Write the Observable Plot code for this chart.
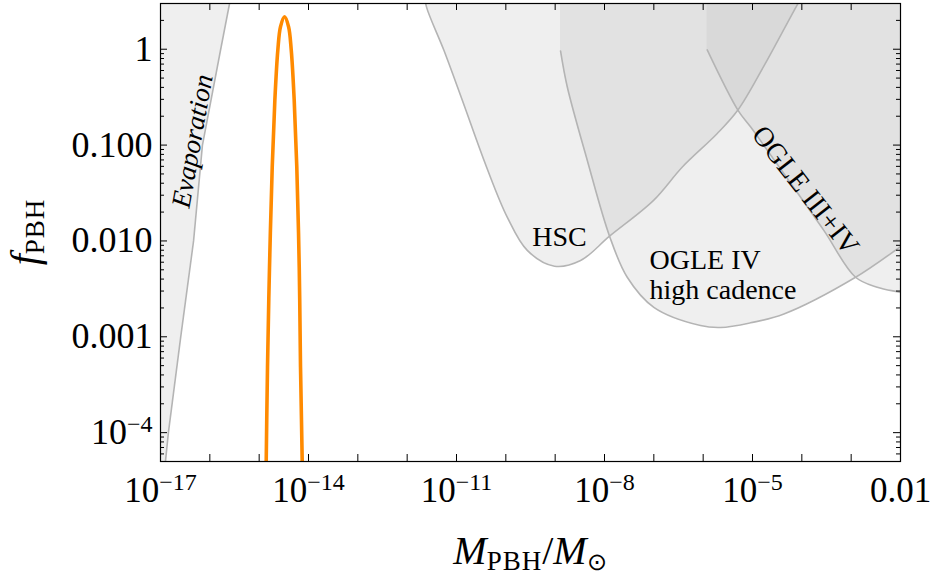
<!DOCTYPE html>
<html>
<head>
<meta charset="utf-8">
<script src="https://cdn.jsdelivr.net/npm/d3@7"></script>
<script src="https://cdn.jsdelivr.net/npm/@observablehq/plot@0.6"></script>
<style>
html,body{margin:0;padding:0;background:#fff;}
#chart svg{display:block;}
</style>
</head>
<body>
<div id="chart"></div>
<script>
// ---------------- data ----------------
// Evaporation bound (region to the left is excluded)
const evapMass = [1.05e-17, 1.26e-17, 1.445e-17, 2.57e-17, 4.68e-17, 7.08e-17, 1.66e-16, 2.51e-16, 3.0e-16];
const evapF    = [2e-5, 5e-5, 1e-4, 1e-3, 1e-2, 0.1, 1, 3, 5];

// HSC microlensing bound
const hscMass = [2.25e-12, 2.47e-12, 5.53e-12, 1.306e-11, 4.06e-11, 1.067e-10, 2.72e-10, 9.70e-10, 3.27e-9, 1.265e-8, 9.86e-8, 3.78e-7, 1.93e-6, 5.05e-6, 1.675e-5, 8.45e-5, 1.07e-4];
const hscF    = [3.7, 2.75, 0.98, 0.295, 0.0591, 0.01774, 0.00796, 0.00545, 0.00625, 0.01122, 0.0265, 0.0591, 0.132, 0.232, 0.658, 3.03, 3.7];

// OGLE IV high cadence bound
const ogle4Mass = [1.285e-9, 1.758e-9, 4.47e-9, 1.265e-8, 2.89e-8, 1.0e-7, 8.83e-7, 2.25e-6, 9.12e-6, 4.32e-5, 1.227e-3, 9.70e-3, 1.26e-2];
const ogle4F    = [0.96, 0.406, 0.0695, 0.01122, 0.00418, 0.00203, 0.00131, 0.00125, 0.0014, 0.00173, 0.00418, 0.00861, 0.0094];

// OGLE III+IV bound
const ogle34Mass = [1.208e-6, 5.05e-6, 9.12e-6, 4.32e-5, 2.79e-4, 1.227e-3, 3.38e-3, 9.70e-3, 1.26e-2];
const ogle34F    = [0.984, 0.232, 0.155, 0.0505, 0.0129, 0.00418, 0.00329, 0.00291, 0.0028];

// PBH mass function (orange)
const pbhMass = [1.318e-15, 1.39e-15, 1.476e-15, 1.62e-15, 1.84e-15, 2.08e-15, 2.39e-15, 2.71e-15, 3.27e-15, 3.94e-15, 4.47e-15, 5.13e-15, 5.79e-15, 6.49e-15, 6.89e-15, 7.45e-15, 7.85e-15];
const pbhF    = [5e-6, 5.1e-5, 4.8e-4, 5.3e-3, 0.059, 0.295, 0.98, 1.72, 2.18, 1.72, 0.98, 0.295, 0.059, 5.3e-3, 4.8e-4, 5.1e-5, 5e-6];

// region labels
const labelText = ["HSC", "OGLE IV", "high cadence"];
const labelMass = [1.225e-9, 8.18e-8, 8.18e-8];
const labelF    = [0.01104, 0.00634, 0.00306];
const labelAnchor = ["middle", "start", "start"];

// tick labels
const xLabelTicks = [1e-17, 1e-14, 1e-11, 1e-8, 1e-5, 1e-2];
const xTickLabels = ["10^−17", "10^−14", "10^−11", "10^−8", "10^−5", "0.01"];
const yLabelTicks = [1e-4, 1e-3, 1e-2, 1e-1, 1];
const yTickLabels = ["10^−4", "0.001", "0.010", "0.100", "1"];

// ---------------- layout ----------------
const W = 935, H = 579;
const mL = 160, mR = 35, mT = 3, mB = 118;
const fw = W - mL - mR, fh = H - mT - mB;
const FONT = "'Liberation Serif', 'Times New Roman', serif";
const GRAY = "#b4b4b4";
const SHADE = "#bbbbbb", SHADE_OP = 0.235;

const toRows = (ms, fs) => ms.map((m, i) => ({m, f: fs[i]}));
const evap = toRows(evapMass, evapF);
const hsc = toRows(hscMass, hscF);
const ogle4 = toRows(ogle4Mass, ogle4F);
const ogle34 = toRows(ogle34Mass, ogle34F);
const pbh = toRows(pbhMass, pbhF);
const labels = labelText.map((t, i) => ({t, m: labelMass[i], f: labelF[i], a: labelAnchor[i]}));

const xDecades = d3.range(-17, -1).map(e => Math.pow(10, e));
const yMajor = [1e-4, 1e-3, 1e-2, 1e-1, 1];
const yMinor = [];
for (let e = -5; e <= 0; e++) for (let k = 2; k <= 9; k++) {
  const v = k * Math.pow(10, e);
  if (v >= 5e-5 && v <= 3) yMinor.push(v);
}

const shade = {fill: SHADE, fillOpacity: SHADE_OP, clip: true};
const edge = {stroke: GRAY, strokeWidth: 1.6, clip: true};

const plot = Plot.plot({
  width: W, height: H,
  marginLeft: mL, marginRight: mR, marginTop: mT, marginBottom: mB,
  style: {fontFamily: FONT, background: "white", color: "black", fontSize: "16px"},
  x: {type: "log", domain: [1e-17, 1e-2]},
  y: {type: "log", domain: [5e-5, 3]},
  marks: [
    Plot.areaX(evap, {y: "f", x1: 1e-20, x2: "m", ...shade}),
    Plot.areaY(hsc, {x: "m", y1: "f", y2: 20, curve: "catmull-rom", ...shade}),
    Plot.areaY(ogle4, {x: "m", y1: "f", y2: 20, curve: "catmull-rom", ...shade}),
    Plot.areaY(ogle34, {x: "m", y1: "f", y2: 20, curve: "catmull-rom", ...shade}),
    Plot.line(evap, {x: "m", y: "f", ...edge}),
    Plot.line(hsc, {x: "m", y: "f", curve: "catmull-rom", ...edge}),
    Plot.line(ogle4, {x: "m", y: "f", curve: "catmull-rom", ...edge}),
    Plot.line(ogle34, {x: "m", y: "f", curve: "catmull-rom", ...edge}),
    Plot.line(pbh, {x: "m", y: "f", curve: "catmull-rom", stroke: "#ff8a00", strokeWidth: 3.6, clip: true}),
    Plot.text(labels.filter(d => d.a === "middle"), {x: "m", y: "f", text: "t", textAnchor: "middle", fontSize: 28, fill: "black"}),
    Plot.text(labels.filter(d => d.a === "start"), {x: "m", y: "f", text: "t", textAnchor: "start", fontSize: 28, fill: "black"}),
    Plot.text(["Evaporation"], {x: 4.46e-17, y: 0.110, text: d => d, rotate: -80, fontSize: 27, fontStyle: "italic", fill: "black"}),
    Plot.text(["OGLE III+IV"], {x: 1.19e-4, y: 0.0337, text: d => d, rotate: 52, fontSize: 28, fill: "black"}),
    Plot.frame({stroke: "black", strokeWidth: 1.2}),
    Plot.ruleX(xDecades, {insetTop: fh - 7, stroke: "black"}),
    Plot.ruleX(xDecades, {insetBottom: fh - 7, stroke: "black"}),
    Plot.ruleY(yMajor, {insetRight: fw - 7, stroke: "black"}),
    Plot.ruleY(yMajor, {insetLeft: fw - 7, stroke: "black"}),
    Plot.ruleY(yMinor, {insetRight: fw - 4, stroke: "black"}),
    Plot.ruleY(yMinor, {insetLeft: fw - 4, stroke: "black"}),
    Plot.axisX(xLabelTicks, {tickSize: 0, tickPadding: 16, fontSize: 35, label: null,
      tickFormat: d => xTickLabels[xLabelTicks.indexOf(d)]}),
    Plot.axisY(yLabelTicks, {tickSize: 0, tickPadding: 8, fontSize: 36, label: null,
      tickFormat: d => yTickLabels[yLabelTicks.indexOf(d)]})
  ]
});

document.getElementById("chart").appendChild(plot);

// superscripts in tick labels
const svg = d3.select(plot);
svg.selectAll('[aria-label="x-axis tick label"] text, [aria-label="y-axis tick label"] text').each(function() {
  const s = this.textContent;
  if (s.includes("^")) {
    const [base, sup] = s.split("^");
    const t = d3.select(this);
    t.text(null);
    t.append("tspan").text(base);
    t.append("tspan").attr("font-size", "24px").attr("dy", "-0.5em").text(sup);
  }
});

// axis titles
const xr = plot.scale("x").range, yr = plot.scale("y").range;
const xc = (xr[0] + xr[1]) / 2, yc = (yr[0] + yr[1]) / 2;
const xl = svg.append("text").attr("x", xc).attr("y", H - 15).attr("text-anchor", "middle")
  .style("font-family", FONT).style("font-size", "40px").attr("fill", "black");
xl.append("tspan").attr("font-style", "italic").text("M");
xl.append("tspan").attr("font-size", "27px").attr("dy", 6).attr("letter-spacing", "1px").text("PBH");
xl.append("tspan").attr("dy", -6).text("/");
xl.append("tspan").attr("font-style", "italic").text("M");
xl.append("tspan").attr("font-size", "24px").attr("dy", 6).text("⊙");

const yl = svg.append("text").attr("transform", `translate(38,${yc}) rotate(-90)`).attr("text-anchor", "middle")
  .style("font-family", FONT).style("font-size", "40px").attr("fill", "black");
yl.append("tspan").attr("font-style", "italic").text("f");
yl.append("tspan").attr("font-size", "27px").attr("dy", 6).attr("letter-spacing", "1px").text("PBH");
</script>
</body>
</html>
